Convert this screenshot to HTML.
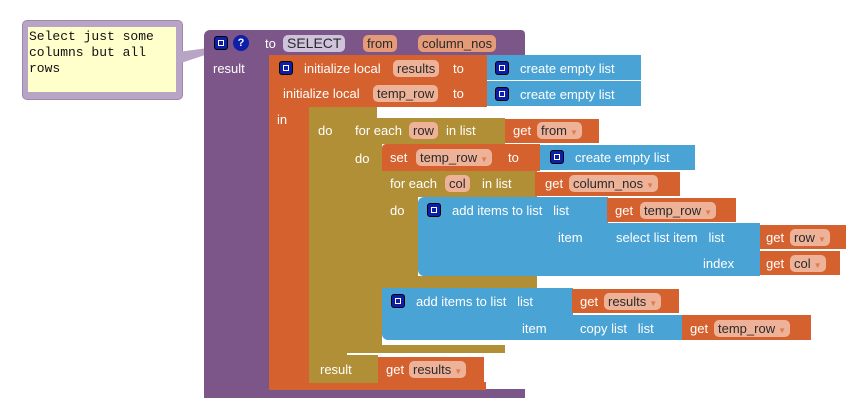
<!DOCTYPE html>
<html><head><meta charset="utf-8"><style>
body{margin:0;width:852px;height:412px;background:#fff;position:relative;overflow:hidden;font-family:"Liberation Sans",sans-serif;font-size:13px;color:#fff}
div,span{position:absolute;box-sizing:border-box}
.p{background:#7c5589}
.o{background:#d4612e}
.g{background:#b08f36}
.b{background:#4aa3d5}
.t{white-space:nowrap;line-height:16px}
.f{background:#eeb298;color:#2a2a2a;border-radius:5px;padding:0 4px;line-height:17px;height:17px;white-space:nowrap}
.ic{width:14px;height:14px;background:#0d1fa8;border-radius:3px;border:1px solid #000}
.ic:after{content:"";position:absolute;left:3px;top:3px;width:6px;height:6px;border:1px solid #fff;box-sizing:border-box}
.ar{font-size:8px;color:#e07a50;margin-left:3px}
</style></head><body>
<!-- comment -->
<div style="left:22px;top:20px;width:161px;height:80px;background:#b8a5c6;border-radius:5px;border:1px solid #9c88ab"></div>
<div style="left:28px;top:27px;width:148px;height:65px;background:#ffffcc"></div>
<svg style="position:absolute;left:0;top:0" width="852" height="412"><polygon points="178,52 178,64 238,44" fill="#b8a5c6"/></svg>
<div class="t" style="left:29px;top:29px;font-family:'Liberation Mono',monospace;font-size:13px;color:#111;line-height:16px">Select just some<br>columns but all<br>rows</div>

<!-- purple procedure -->
<div class="p" style="left:204px;top:30px;width:321px;height:26px;border-radius:6px 4px 0 0"></div>
<div class="p" style="left:204px;top:50px;width:66px;height:348px;border-radius:0 0 0 6px"></div>
<div class="p" style="left:204px;top:389px;width:321px;height:9px"></div>
<div class="ic" style="left:214px;top:36px"></div>
<div style="left:233px;top:35px;width:16px;height:16px;border-radius:50%;background:#0d1fa8;font-weight:bold;font-size:11px;text-align:center;line-height:16px">?</div>
<span class="t" style="left:265px;top:36px">to</span>
<span class="f" style="left:283px;top:35px;background:#cfc3dc;font-size:14px">SELECT</span>
<span class="f" style="left:363px;top:35px;background:#e59a78">from</span>
<span class="f" style="left:418px;top:35px;background:#e59a78">column_nos</span>
<span class="t" style="left:213px;top:61px">result</span>

<!-- orange local block -->
<div class="o" style="left:269px;top:55px;width:218px;height:52px"></div>
<div class="o" style="left:269px;top:100px;width:40px;height:290px"></div>
<div class="o" style="left:269px;top:382px;width:217px;height:8px"></div>
<div class="ic" style="left:279px;top:61px"></div>
<span class="t" style="left:304px;top:61px">initialize local</span>
<span class="f" style="left:393px;top:60px">results</span>
<span class="t" style="left:453px;top:61px">to</span>
<span class="t" style="left:283px;top:86px">initialize local</span>
<span class="f" style="left:373px;top:85px">temp_row</span>
<span class="t" style="left:453px;top:86px">to</span>
<span class="t" style="left:277px;top:112px">in</span>
<div class="b" style="left:487px;top:55px;width:154px;height:25px"></div>
<div class="ic" style="left:495px;top:61px"></div>
<span class="t" style="left:520px;top:61px">create empty list</span>
<div class="b" style="left:487px;top:81px;width:154px;height:25px"></div>
<div class="ic" style="left:495px;top:87px"></div>
<span class="t" style="left:520px;top:87px">create empty list</span>

<!-- olive do/result -->
<div class="g" style="left:309px;top:107px;width:68px;height:12px"></div>
<div class="g" style="left:309px;top:107px;width:38px;height:276px"></div>
<div class="g" style="left:309px;top:355px;width:69px;height:28px"></div>
<span class="t" style="left:318px;top:123px">do</span>
<span class="t" style="left:320px;top:362px">result</span>
<div class="o" style="left:378px;top:357px;width:106px;height:25px"></div>
<span class="t" style="left:386px;top:362px">get</span>
<span class="f" style="left:409px;top:361px">results<span class="ar" style="position:static">▼</span></span>

<!-- for each row -->
<div class="g" style="left:347px;top:118px;width:158px;height:26px;border-radius:6px 0 0 0"></div>
<div class="g" style="left:347px;top:118px;width:35px;height:235px"></div>
<div class="g" style="left:347px;top:345px;width:158px;height:8px"></div>
<span class="t" style="left:355px;top:123px">for each</span>
<span class="f" style="left:409px;top:122px">row</span>
<span class="t" style="left:446px;top:123px">in list</span>
<div class="o" style="left:505px;top:119px;width:94px;height:24px"></div>
<span class="t" style="left:513px;top:123px">get</span>
<span class="f" style="left:537px;top:122px">from<span class="ar" style="position:static">▼</span></span>
<span class="t" style="left:355px;top:151px">do</span>

<!-- set -->
<div class="o" style="left:382px;top:144px;width:158px;height:27px;border-radius:4px 0 0 0"></div>
<span class="t" style="left:390px;top:150px">set</span>
<span class="f" style="left:416px;top:149px">temp_row<span class="ar" style="position:static">▼</span></span>
<span class="t" style="left:508px;top:150px">to</span>
<div class="b" style="left:540px;top:145px;width:155px;height:25px"></div>
<div class="ic" style="left:550px;top:150px"></div>
<span class="t" style="left:575px;top:150px">create empty list</span>

<!-- for each col -->
<div class="g" style="left:382px;top:171px;width:155px;height:26px"></div>
<div class="g" style="left:382px;top:171px;width:36px;height:117px"></div>
<div class="g" style="left:382px;top:276px;width:155px;height:12px"></div>
<span class="t" style="left:390px;top:176px">for each</span>
<span class="f" style="left:445px;top:175px">col</span>
<span class="t" style="left:482px;top:176px">in list</span>
<div class="o" style="left:535px;top:172px;width:145px;height:24px"></div>
<span class="t" style="left:545px;top:176px">get</span>
<span class="f" style="left:569px;top:175px">column_nos<span class="ar" style="position:static">▼</span></span>
<span class="t" style="left:390px;top:203px">do</span>

<!-- add items 1 -->
<div class="b" style="left:418px;top:197px;width:190px;height:79px;border-radius:6px 0 0 6px"></div>
<div class="ic" style="left:427px;top:203px"></div>
<span class="t" style="left:452px;top:203px">add items to list&nbsp;&nbsp; list</span>
<span class="t" style="left:558px;top:230px">item</span>
<div class="o" style="left:607px;top:198px;width:129px;height:24px"></div>
<span class="t" style="left:615px;top:203px">get</span>
<span class="f" style="left:640px;top:202px">temp_row<span class="ar" style="position:static">▼</span></span>
<div class="b" style="left:607px;top:223px;width:153px;height:53px"></div>
<span class="t" style="left:616px;top:230px">select list item&nbsp;&nbsp; list</span>
<span class="t" style="left:703px;top:256px">index</span>
<div class="o" style="left:760px;top:225px;width:86px;height:24px"></div>
<span class="t" style="left:766px;top:230px">get</span>
<span class="f" style="left:790px;top:229px">row<span class="ar" style="position:static">▼</span></span>
<div class="o" style="left:760px;top:251px;width:80px;height:24px"></div>
<span class="t" style="left:766px;top:256px">get</span>
<span class="f" style="left:790px;top:255px">col<span class="ar" style="position:static">▼</span></span>

<!-- add items 2 -->
<div class="b" style="left:382px;top:288px;width:191px;height:52px;border-radius:0 0 0 6px"></div>
<div class="ic" style="left:391px;top:294px"></div>
<span class="t" style="left:416px;top:294px">add items to list&nbsp;&nbsp; list</span>
<span class="t" style="left:522px;top:321px">item</span>
<div class="o" style="left:572px;top:289px;width:107px;height:24px"></div>
<span class="t" style="left:580px;top:294px">get</span>
<span class="f" style="left:604px;top:293px">results<span class="ar" style="position:static">▼</span></span>
<div class="b" style="left:572px;top:315px;width:110px;height:25px"></div>
<span class="t" style="left:580px;top:321px">copy list&nbsp;&nbsp; list</span>
<div class="o" style="left:682px;top:315px;width:129px;height:25px"></div>
<span class="t" style="left:690px;top:321px">get</span>
<span class="f" style="left:714px;top:320px">temp_row<span class="ar" style="position:static">▼</span></span>
</body></html>
